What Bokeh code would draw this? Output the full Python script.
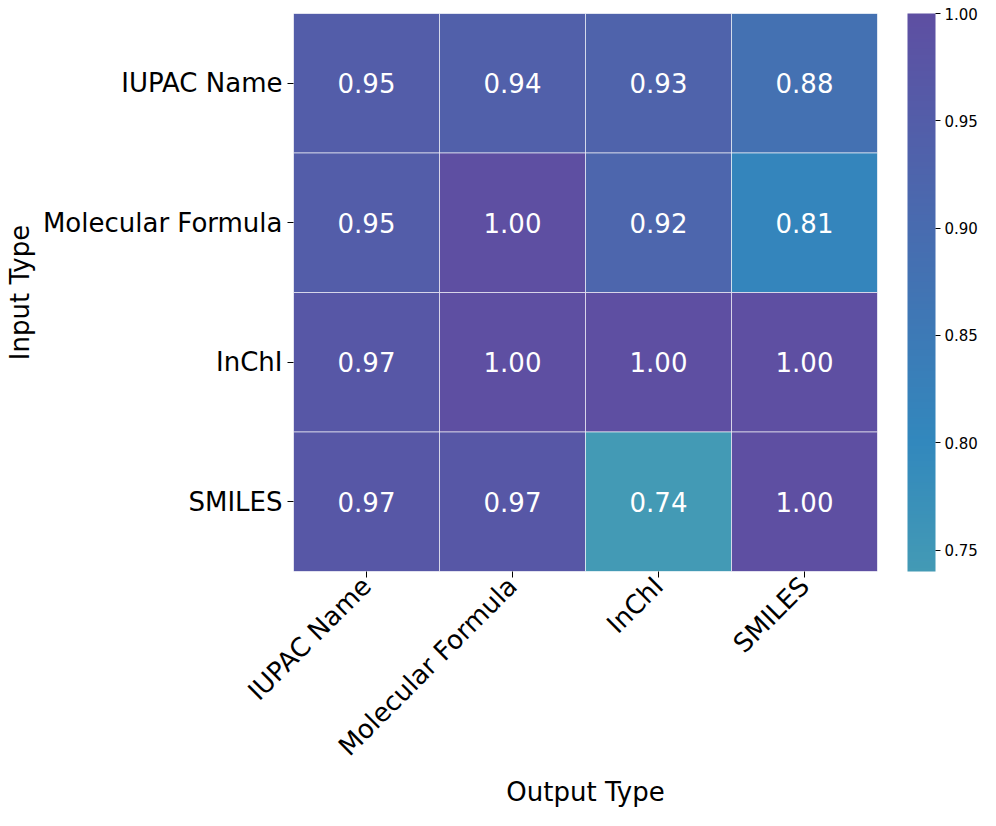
import math
import numpy as np
from bokeh.plotting import figure
from bokeh.models import ColumnDataSource, LinearColorMapper, ColorBar, FixedTicker, FactorRange, PrintfTickFormatter
from bokeh.core.properties import value
from bokeh.embed import file_html
from bokeh.resources import INLINE

input_types = ["IUPAC Name", "Molecular Formula", "InChI", "SMILES"]
output_types = ["IUPAC Name", "Molecular Formula", "InChI", "SMILES"]
row_iupac = [0.95, 0.94, 0.93, 0.88]
row_formula = [0.95, 1.00, 0.92, 0.81]
row_inchi = [0.97, 1.00, 1.00, 1.00]
row_smiles = [0.97, 0.97, 0.74, 1.00]
cbar_ticks = [0.75, 0.80, 0.85, 0.90, 0.95, 1.00]

rows = [row_iupac, row_formula, row_inchi, row_smiles]
xs, ys, vals, labels = [], [], [], []
for r, row in zip(input_types, rows):
    for c, v in zip(output_types, row):
        xs.append(c); ys.append(r); vals.append(v); labels.append(f"{v:.2f}")

low, high = min(vals), max(vals)

# palette: smooth gradient teal -> blue -> purple
stops_pos = [0.0, (0.80 - 0.74) / 0.26, 1.0]
stops_col = [(0x43, 0x9a, 0xb5), (0x32, 0x88, 0xbd), (0x5e, 0x4f, 0xa2)]
palette = []
for t in np.linspace(0, 1, 256):
    rgb = [int(round(np.interp(t, stops_pos, [c[i] for c in stops_col]))) for i in range(3)]
    palette.append("#%02x%02x%02x" % tuple(rgb))

mapper = LinearColorMapper(palette=palette, low=low, high=high)
src = ColumnDataSource(dict(x=xs, y=ys, v=vals, label=labels))

FONT = "DejaVu Sans"
p = figure(width=980, height=810, output_backend="svg", toolbar_location=None,
           x_range=FactorRange(factors=output_types),
           y_range=FactorRange(factors=list(reversed(input_types))),
           min_border_left=293, min_border_top=13, min_border_bottom=0, min_border_right=0)
p.rect(x="x", y="y", width=1, height=1, source=src,
       fill_color={"field": "v", "transform": mapper},
       line_color="white", line_alpha=0.6, line_width=1)
p.text(x="x", y="y", text="label", source=src, text_color="white",
       text_font=value(FONT), text_font_size="26px",
       text_align="center", text_baseline="middle")

p.outline_line_color = None
p.grid.grid_line_color = None
p.background_fill_color = "white"
for ax in (p.xaxis, p.yaxis):
    ax.axis_line_color = None
    ax.major_tick_line_color = "black"
    ax.major_tick_in = 0
    ax.major_tick_out = 6
    ax.major_label_text_font = FONT
    ax.major_label_text_font_size = "26px"
    ax.major_label_text_color = "black"
    ax.axis_label_text_font = FONT
    ax.axis_label_text_font_size = "26px"
    ax.axis_label_text_font_style = "normal"
    ax.axis_label_text_color = "black"
p.xaxis.axis_label = "Output Type"
p.yaxis.axis_label = "Input Type"
p.xaxis.major_label_orientation = math.pi / 4
p.xaxis.major_label_standoff = 4
p.yaxis.major_label_standoff = 5
p.xaxis.axis_label_standoff = 2

cb = ColorBar(color_mapper=mapper, width=28, height="auto", padding=0, margin=0,
              location=(30, 0), ticker=FixedTicker(ticks=cbar_ticks),
              formatter=PrintfTickFormatter(format="%.2f"),
              major_label_text_font=FONT, major_label_text_font_size="15px",
              major_label_text_color="black",
              major_tick_line_color="black", major_tick_out=5, major_tick_in=0,
              bar_line_color=None, border_line_color=None, background_fill_color=None,
              label_standoff=4)
p.add_layout(cb, "right")

open("out.html", "w").write(file_html(p, INLINE))
